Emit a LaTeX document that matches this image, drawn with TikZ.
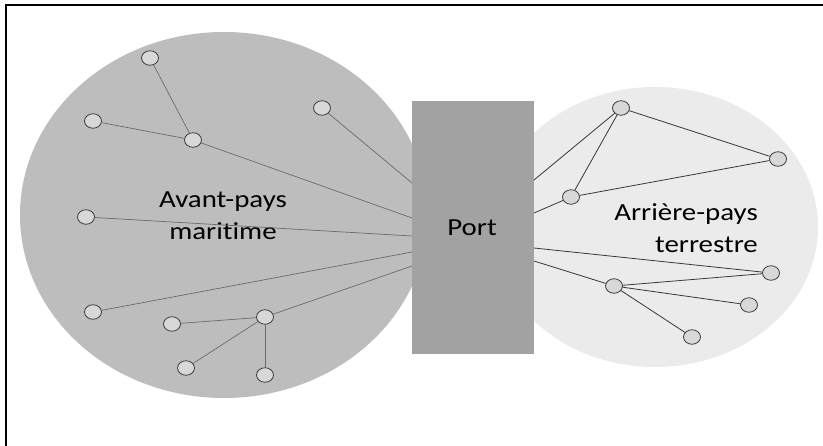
\documentclass[tikz,border=0pt]{standalone}
\usepackage{fontspec}
\usepackage{graphicx}
\setmainfont{Carlito}[Ligatures={NoCommon}]
\usetikzlibrary{shapes.geometric}
\definecolor{seagray}{HTML}{BDBDBD}
\definecolor{landgray}{HTML}{EBEBEB}
\definecolor{portgray}{HTML}{A2A2A2}
\definecolor{nodefill}{HTML}{D8D8D8}
\definecolor{nodeline}{HTML}{3A3A3A}
\newcommand{\stretchtxt}[1]{\scalebox{1.18}[1]{#1}}
\tikzset{
  pt/.style={ellipse, draw=nodeline, line width=0.8pt, fill=nodefill, inner sep=0pt, minimum width=17pt, minimum height=14.5pt},
  seaedge/.style={draw=black!58, line width=0.7pt},
  landedge/.style={draw=black!78, line width=0.8pt},
  lbl/.style={font=\fontsize{24.5}{32}\selectfont, inner sep=0pt, text=black}
}
\begin{document}
\begin{tikzpicture}[x=1pt,y=-1pt]
\useasboundingbox (0,0) rectangle (823,446);
\fill[white] (0,0) rectangle (823,446);
% frame
\draw[line width=1.5pt] (6,446) -- (6,5) -- (823,5);
% regions
\fill[seagray] (224,215) ellipse [x radius=204, y radius=183];
\fill[landgray] (655,227) ellipse [x radius=163, y radius=140];
\node[fill=portgray, minimum width=122pt, minimum height=253pt, inner sep=0pt] (port) at (473,227.5) {};
% port attachment points
\coordinate (pl1) at (412,183);
\coordinate (pl2) at (412,218);
\coordinate (pl3) at (412,236);
\coordinate (pl4) at (412,252);
\coordinate (pl5) at (412,266);
\coordinate (pr1) at (534,180);
\coordinate (pr2) at (534,213);
\coordinate (pr3) at (534,248);
\coordinate (pr4) at (534,261);
% labels
\node[lbl, align=center] (avant) at (223,216) {\stretchtxt{Avant-pays}\\\stretchtxt{maritime}};
\node[lbl, anchor=base] (portlbl) at (472,236) {\stretchtxt{Port}};
\node[lbl, align=right, anchor=east] (arriere) at (758,228) {\stretchtxt{Arrière-pays}\\\stretchtxt{terrestre}};
% sea nodes
\node[pt] (a1) at (150,58) {};
\node[pt] (a2) at (93,121) {};
\node[pt] (a3) at (193,140) {};
\node[pt] (a4) at (322,108) {};
\node[pt] (a5) at (86,217) {};
\node[pt] (a6) at (93,312) {};
\node[pt] (a7) at (172,324) {};
\node[pt] (a8) at (265,317) {};
\node[pt] (a9) at (186,368) {};
\node[pt] (a10) at (265,375) {};
% land nodes
\node[pt] (b1) at (621,108) {};
\node[pt] (b2) at (778,159) {};
\node[pt] (b3) at (571,197) {};
\node[pt] (b4) at (771,273) {};
\node[pt] (b5) at (614,286) {};
\node[pt] (b6) at (749,305) {};
\node[pt] (b7) at (692,337) {};
% sea edges
\draw[seaedge] (a1) -- (a3);
\draw[seaedge] (a2) -- (a3);
\draw[seaedge] (a3) -- (pl2);
\draw[seaedge] (a4) -- (pl1);
\draw[seaedge] (a5) -- (pl3);
\draw[seaedge] (a6) -- (pl4);
\draw[seaedge] (a8) -- (pl5);
\draw[seaedge] (a7) -- (a8);
\draw[seaedge] (a8) -- (a9);
\draw[seaedge] (a8) -- (a10);
% land edges
\draw[landedge] (pr1) -- (b1);
\draw[landedge] (b1) -- (b3);
\draw[landedge] (b1) -- (b2);
\draw[landedge] (b3) -- (b2);
\draw[landedge] (pr2) -- (b3);
\draw[landedge] (pr3) -- (b4);
\draw[landedge] (pr4) -- (b5);
\draw[landedge] (b5) -- (b4);
\draw[landedge] (b5) -- (b6);
\draw[landedge] (b5) -- (b7);
\end{tikzpicture}
\end{document}
